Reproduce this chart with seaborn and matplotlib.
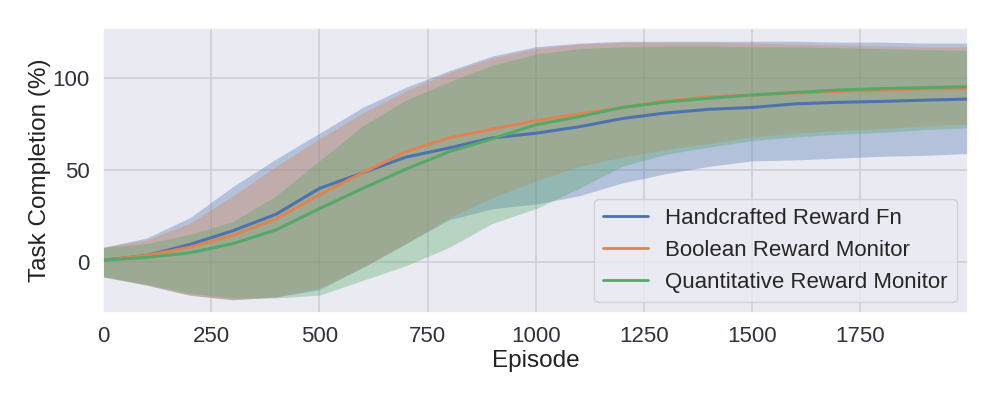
import numpy as np
import pandas as pd
import matplotlib
matplotlib.use("Agg")
import matplotlib.pyplot as plt
import seaborn as sns

episodes = [0, 100, 200, 300, 400, 500, 600, 700, 800, 900, 1000,
            1100, 1200, 1300, 1400, 1500, 1600, 1700, 1800, 1900, 1999]

methods = ["Handcrafted Reward Fn", "Boolean Reward Monitor", "Quantitative Reward Monitor"]

hand_mean = [1, 3.5, 9.5, 17, 26, 40, 48.5, 57, 62, 67.5, 70,
             73.5, 78, 81, 83, 84, 86, 86.8, 87.3, 88, 88.6]
bool_mean = [1, 3.5, 8, 14.5, 23.4, 36.5, 48.5, 60, 67.5, 72.3, 76.8,
             80.5, 84, 87.5, 89.8, 90.8, 91.8, 92.7, 93.4, 94, 94.3]
quant_mean = [1, 2.5, 5, 10, 17.5, 29, 40, 50.5, 60, 67, 74.6,
              79, 84, 87, 89, 90.8, 92.2, 93.5, 94.3, 94.8, 95.3]

hand_upper = [8, 13, 24, 41, 56, 70, 84, 95, 104, 112, 117,
              119, 120, 120, 120, 120, 120, 119.5, 119.5, 119, 119]
bool_upper = [8, 12, 21, 36, 52, 67, 81, 93, 103, 111, 116,
              118.5, 119.5, 119.5, 119.5, 119, 118.5, 118, 117.5, 117, 117]
quant_upper = [8, 10, 15, 22, 36, 55, 74, 88, 98, 107, 113,
               116, 117, 117.5, 117.5, 117, 117, 116.5, 116, 115.5, 115]

hand_lower = [-8, -12.5, -18, -20.5, -19, -15, -3, 10, 23, 29, 31.5,
              36, 43, 48, 52, 55, 55.5, 56.5, 57.5, 58, 59]
bool_lower = [-8, -12.5, -18, -20.5, -19, -14, -3, 10, 24, 35, 44,
              52, 57, 61, 64.5, 68, 70, 71.5, 72.5, 74, 75]
quant_lower = [-8, -12, -17, -19.5, -19.5, -18, -10, -2, 8, 21, 29,
               40, 52, 58.5, 62.5, 66, 68, 69.5, 70.5, 72, 73]

means = [hand_mean, bool_mean, quant_mean]
uppers = [hand_upper, bool_upper, quant_upper]
lowers = [hand_lower, bool_lower, quant_lower]

# ---- long-form table ----
rows = []
for m, mean in zip(methods, means):
    for e, v in zip(episodes, mean):
        rows.append({"Episode": e, "Task Completion (%)": v, "Method": m})
df = pd.DataFrame(rows)

sns.set_theme(style="darkgrid", rc={"grid.color": "#CFCFD5", "grid.linewidth": 1.2})
plt.rcParams["font.family"] = ["Liberation Sans", "DejaVu Sans"]

fig = plt.figure(figsize=(9.97, 3.99), dpi=100)
ax = fig.add_axes([0.1033, 0.2155, 0.8676, 0.7143])

palette = sns.color_palette("deep", 3)
for i in range(3):
    ax.fill_between(episodes, lowers[i], uppers[i], color=palette[i], alpha=0.34,
                    linewidth=0, zorder=1)

sns.lineplot(data=df, x="Episode", y="Task Completion (%)", hue="Method",
             hue_order=methods, palette=palette, linewidth=2.2, ax=ax, zorder=2)

ax.set_xlim(0, 1999)
ax.set_ylim(-27.7, 127.2)
ax.set_xticks([0, 250, 500, 750, 1000, 1250, 1500, 1750])
ax.set_yticks([0, 50, 100])
ax.tick_params(labelsize=16, colors="#2E323C")
ax.set_xlabel("Episode", fontsize=17.5, labelpad=2, color="#222222")
ax.set_ylabel("Task Completion (%)", fontsize=17.5, labelpad=1, color="#222222")

leg = ax.legend(loc="lower right", fontsize=16, title=None)
for line in leg.get_lines():
    line.set_linewidth(2)

fig.savefig("out.png", dpi=100)
